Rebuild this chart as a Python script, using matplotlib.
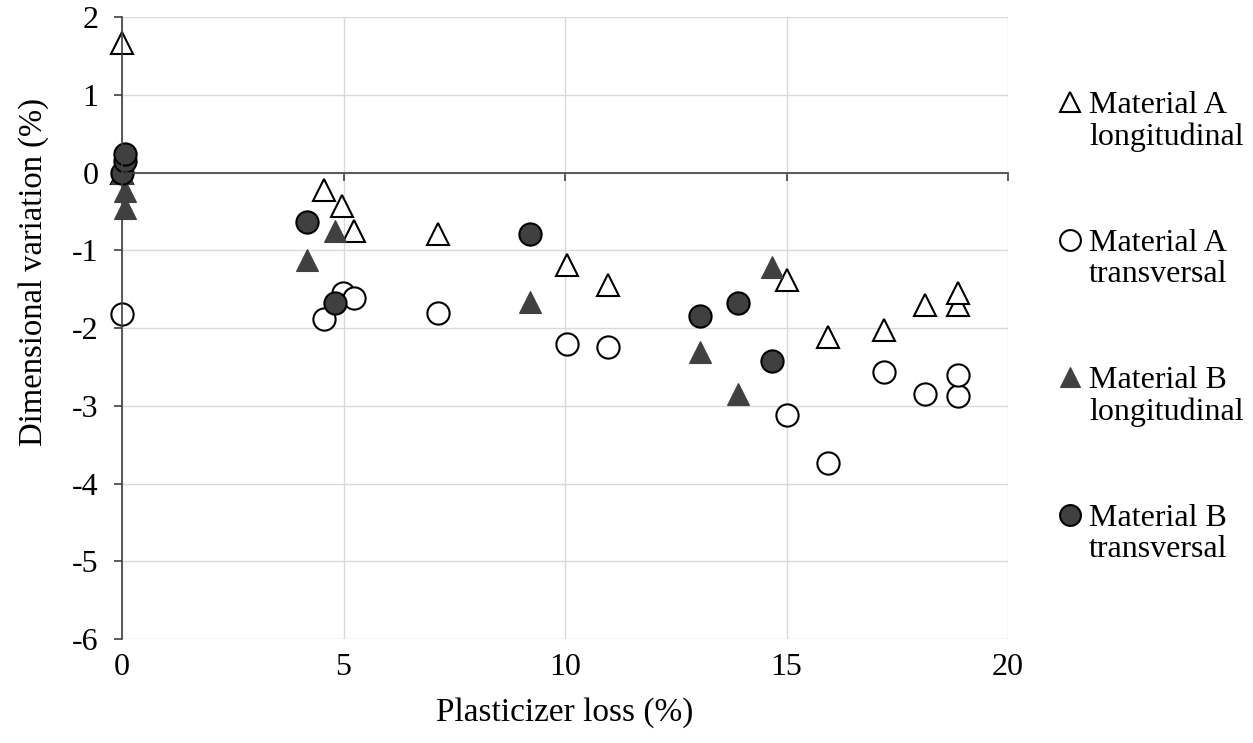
#!/usr/bin/env python3

import matplotlib.pyplot as plt
from matplotlib.lines import Line2D
from matplotlib.legend_handler import HandlerLine2D

plt.rcParams['font.family'] = ['Liberation Serif', 'DejaVu Serif']

# Material A, longitudinal
a_long_x = [0, 0, 4.55, 4.97, 5.24, 7.14, 10.05, 10.98, 15.0, 15.93, 17.19, 18.13, 18.86, 18.88]
a_long_y = [0, 1.67, -0.23, -0.43, -0.75, -0.79, -1.19, -1.44, -1.38, -2.12, -2.02, -1.70, -1.71, -1.55]

# Material A, transversal
a_trans_x = [0, 4.56, 4.98, 5.24, 7.14, 10.05, 10.98, 15.0, 15.93, 17.19, 18.13, 18.86, 18.88]
a_trans_y = [-1.82, -1.88, -1.55, -1.61, -1.81, -2.20, -2.25, -3.12, -3.74, -2.57, -2.85, -2.88, -2.61]

# Material B, longitudinal
b_long_x = [0, 0.07, 0.07, 4.18, 4.81, 9.22, 13.05, 13.9, 14.68]
b_long_y = [0, -0.24, -0.46, -1.13, -0.75, -1.66, -2.31, -2.85, -1.22]

# Material B, transversal
b_trans_x = [0, 0.07, 0.07, 4.18, 4.81, 9.22, 13.05, 13.9, 14.68]
b_trans_y = [0, 0.15, 0.24, -0.64, -1.68, -0.79, -1.84, -1.68, -2.42]

labels = ['Material A\nlongitudinal', 'Material A\ntransversal',
          'Material B\nlongitudinal', 'Material B\ntransversal']

x_ticks = [0, 5, 10, 15, 20]
y_ticks = [-6, -5, -4, -3, -2, -1, 0, 1, 2]

dark = '#404040'
fs = 23


# legend marker goes next to the first line of the two-line label
class FirstLineHandler(HandlerLine2D):
    def create_artists(self, legend, orig_handle, xdescent, ydescent,
                       width, height, fontsize, trans):
        return super().create_artists(legend, orig_handle, xdescent, ydescent - 27,
                                      width, height, fontsize, trans)


fig = plt.figure(figsize=(12.53, 7.43), dpi=100)
ax = fig.add_axes([0.0974, 0.140, 0.7071, 0.837])

style = dict(linestyle='none', markersize=16, markeredgewidth=1.5, markeredgecolor='black',
             clip_on=False)
ax.plot(a_long_x, a_long_y, marker='^', markerfacecolor='white', **style)
ax.plot(a_trans_x, a_trans_y, marker='o', markerfacecolor='white', **style)
ax.plot(b_long_x, b_long_y, marker='^', markerfacecolor=dark, clip_on=False,
        linestyle='none', markersize=16, markeredgewidth=0.8, markeredgecolor=dark)
ax.plot(b_trans_x, b_trans_y, marker='o', markerfacecolor=dark, **style)

ax.set_xlim(0, 20)
ax.set_ylim(-6, 2)
ax.set_xticks(x_ticks)
ax.set_yticks(y_ticks)
ax.set_yticklabels([str(v) for v in y_ticks], fontsize=fs)
ax.grid(True, color='#d9d9d9', linewidth=1)
ax.set_axisbelow(True)

for s in ['top', 'right']:
    ax.spines[s].set_visible(False)
ax.spines['left'].set_color(dark)
ax.spines['left'].set_linewidth(1.2)
ax.spines['bottom'].set_position(('data', 0))
ax.spines['bottom'].set_color(dark)
ax.spines['bottom'].set_linewidth(1.2)
ax.spines['left'].set_zorder(3)
ax.spines['bottom'].set_zorder(3)
ax.tick_params(axis='x', direction='out', length=6, width=1.2, color=dark, labelbottom=False)
ax.tick_params(axis='y', direction='out', length=6, width=1.2, color=dark, pad=11)

# tick labels of the x axis sit at the bottom of the plot area
sec = ax.secondary_xaxis('bottom')
sec.set_xticks(x_ticks)
sec.set_xticklabels([str(v) for v in x_ticks], fontsize=fs)
sec.tick_params(length=0, pad=10)
sec.spines['bottom'].set_visible(False)
sec.set_xlabel('Plasticizer loss (%)', fontsize=24, labelpad=11)

ax.set_ylabel('Dimensional variation (%)', fontsize=fs + 0.5)
ax.yaxis.set_label_coords(-0.083, 0.59)

handles = [
    Line2D([], [], linestyle='none', marker='^', markersize=15, markerfacecolor='white',
           markeredgecolor='black', markeredgewidth=1.5),
    Line2D([], [], linestyle='none', marker='o', markersize=15, markerfacecolor='white',
           markeredgecolor='black', markeredgewidth=1.5),
    Line2D([], [], linestyle='none', marker='^', markersize=15, markerfacecolor=dark,
           markeredgecolor=dark, markeredgewidth=0.8),
    Line2D([], [], linestyle='none', marker='o', markersize=15, markerfacecolor=dark,
           markeredgecolor='black', markeredgewidth=1.5),
]
leg = fig.legend(handles, labels, loc='upper left', bbox_to_anchor=(0.845, 0.878),
                 frameon=False, fontsize=fs, handlelength=0.7, handletextpad=0.25,
                 labelspacing=2.4, borderpad=0, borderaxespad=0,
                 handler_map={Line2D: FirstLineHandler()})
for t in leg.get_texts():
    t.set_linespacing(1.12)

plt.savefig('out.png', dpi=100)
